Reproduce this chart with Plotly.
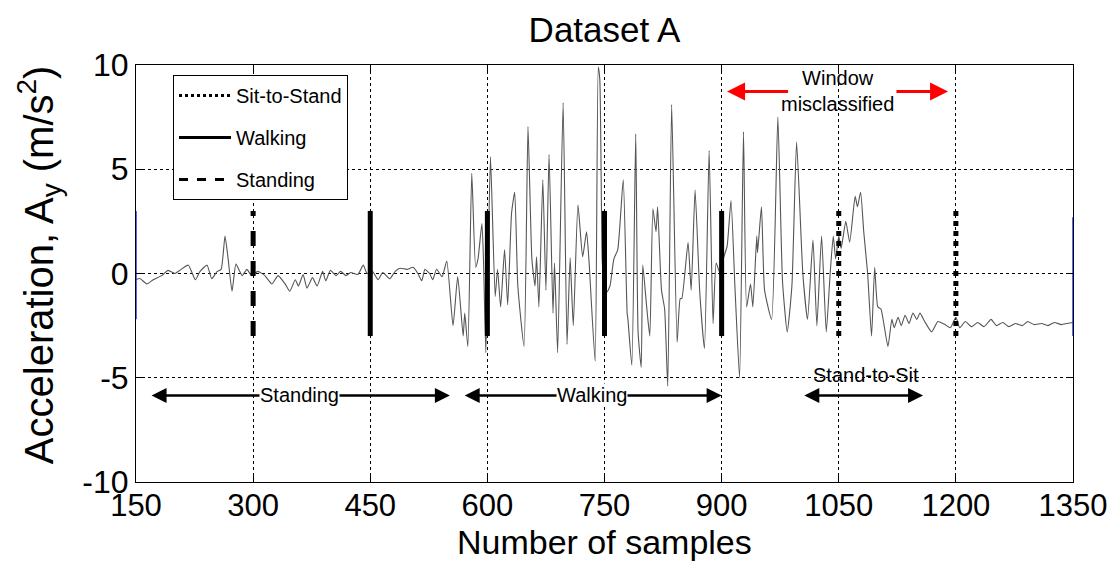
import plotly.graph_objects as go

# ---- signal ----
samples = [150,155,164,172,183,191,200,206,217,226,232,241,247,254,259,264,268,273,278,286,
           292,298,306,315,324,332,341,347,354,358,364,369,376,382,389,393,399,406,412,419,
           425,434,441,446,453,460,466,475,482,488,497,505,511,516,520,526,530,535,542,548,
           556,562,569,571,575,580,585,588,593,595,598,601,604,610,613,617,622,626,631,635,
           639,647,652,657,661,663,666,671,675,679,684,686,690,697,702,706,710,716,722,727,
           730,738,742,744,747,749,753,757,762,767,774,779,780,785,790,793,797,799,804,808,
           812,816,818,823,827,831,836,843,847,849,857,861,866,872,878,884,889,893,898,902,
           907,912,917,923,928,932,937,940,945,946,951,955,964,972,978,984,990,996,1004,1010,
           1017,1022,1028,1034,1039,1043,1046,1050,1053,1059,1064,1071,1074,1078,1082,1087,1092,1096,1100,1104,
           1113,1118,1121,1126,1130,1135,1140,1145,1150,1154,1160,1169,1177,1186,1193,1200,1205,1212,1220,1228,
           1236,1245,1252,1260,1268,1276,1285,1292,1300,1310,1318,1326,1335,1342,1350]
accel = [-0.29,-0.24,-0.5,-0.3,-0.1,0.15,0.0,0.15,0.4,-0.3,0.1,0.4,-0.25,0.1,0.2,1.8,0.7,-0.85,0.45,-0.1,
         0.2,-0.1,0.1,-0.1,-0.5,-0.1,-0.5,-0.85,-0.3,-0.6,-0.05,-0.7,-0.2,-0.6,0.1,-0.35,0.15,-0.1,0.1,-0.1,
         0.05,-0.05,0.4,0.0,0.1,-0.3,0.05,-0.25,0.1,0.25,0.2,0.3,0.0,-0.35,0.2,0.0,-0.3,0.2,-0.15,0.6,
         -2.5,-0.15,-3.0,-1.9,-3.5,4.8,0.3,0.7,2.4,0.7,-3.8,0.7,5.6,-1.1,0.2,-1.6,1.15,-1.5,2.9,3.9,
         -0.6,-3.5,7.05,0.7,-0.6,0.8,-1.6,4.5,-0.8,5.7,-1.9,0.5,-3.8,8.2,-3.4,0.75,-2.5,3.3,0.8,2.0,
         0.7,-4.2,9.9,9.3,0.7,-0.4,-0.9,-0.6,0.7,1.15,4.5,-1.9,-2.2,-4.4,6.7,-2.8,-4.5,0.4,-1.6,-3.0,
         3.1,2.0,3.2,-0.8,-1.7,-5.4,8.1,-3.3,-1.2,-1.2,1.5,-0.8,4.0,-0.9,-3.6,5.9,-2.4,0.5,0.0,0.7,
         1.3,3.5,-0.6,-5.0,6.8,-1.6,-0.5,-1.6,1.8,1.0,3.2,-0.8,-2.2,7.5,-0.4,-2.8,-0.6,6.3,0.0,-2.2,
         1.6,-2.5,1.8,-2.8,0.0,1.8,0.7,1.8,1.2,2.5,1.5,3.7,3.2,3.9,2.0,0.0,-3.0,0.3,-1.6,-1.7,
         -3.5,-2.2,-2.6,-2.1,-2.5,-2.0,-2.4,-1.9,-2.2,-1.9,-2.3,-2.8,-2.3,-2.45,-2.6,-2.1,-2.6,-2.3,-2.55,-2.35,
         -2.55,-2.2,-2.5,-2.35,-2.55,-2.4,-2.5,-2.3,-2.45,-2.4,-2.5,-2.35,-2.45,-2.4,-2.35]

# ---- window boundary markers ----
marker_x = [300, 450, 600, 750, 900, 1050, 1200]
marker_kind = ["Standing", "Walking", "Walking", "Walking", "Walking", "Sit-to-Stand", "Sit-to-Stand"]
marker_half = 3
legend_order = ["Sit-to-Stand", "Walking", "Standing"]
dash_of = {"Sit-to-Stand": "dot", "Walking": "solid", "Standing": "dash"}

# ---- activity spans (double arrows) ----
span_labels = ["Standing", "Walking", "Stand-to-Sit"]
span_start = [168, 569, 1004]
span_end = [552, 900, 1158]
span_label_x = [360, 734, 1085]
span_y = -5.85

# ---- misclassified window ----
miscl_text = "Window<br>misclassified"
miscl_x = 1049
miscl_y = 8.75
red_tail = [987, 1122]
red_head = [907, 1190]
red_y = 8.73

# edge artefacts (thin blue)
edge_x = [150, 1350]
edge_lo = [-2.2, -3.0]
edge_hi = [3.0, 2.7]

x_ticks = [150, 300, 450, 600, 750, 900, 1050, 1200, 1350]
y_ticks = [-10, -5, 0, 5, 10]

title_text = "Dataset A"
x_title = "Number of samples"
y_title = "Acceleration, A<sub>y</sub> (m/s<sup>2</sup>)"

FONT = "Arial, Liberation Sans, sans-serif"

fig = go.Figure()

fig.add_trace(go.Scatter(x=samples, y=accel, mode="lines",
                         line=dict(color="#555555", width=1.1, shape="spline", smoothing=0.5),
                         showlegend=False, hoverinfo="skip"))

for xv, lo, hi in zip(edge_x, edge_lo, edge_hi):
    fig.add_trace(go.Scatter(x=[xv, xv], y=[lo, hi], mode="lines",
                             line=dict(color="#2030ff", width=1.5), showlegend=False))

for xv, k in zip(marker_x, marker_kind):
    fig.add_trace(go.Scatter(x=[xv, xv], y=[-marker_half, marker_half], mode="lines",
                             line=dict(color="black", width=5, dash=dash_of[k]),
                             showlegend=False))

for i, k in enumerate(legend_order):
    fig.add_trace(go.Scatter(x=[None], y=[None], mode="lines", name=k,
                             legendgroup=k, legendrank=i,
                             line=dict(color="black", width=3, dash=dash_of[k])))

# double-headed arrows
for lab, s, e, lx in zip(span_labels, span_start, span_end, span_label_x):
    fig.add_annotation(x=e, y=span_y, ax=s, ay=span_y, xref="x", yref="y",
                       axref="x", ayref="y", text="", showarrow=True,
                       arrowhead=2, startarrowhead=2, arrowside="end+start",
                       arrowsize=1.2, startarrowsize=1.2, arrowwidth=2.5,
                       arrowcolor="black")
    if lab == "Stand-to-Sit":
        fig.add_annotation(x=lx, y=span_y + 1.0, text=lab, showarrow=False,
                           font=dict(size=20, color="black", family=FONT))
    else:
        fig.add_annotation(x=lx, y=span_y, text=lab, showarrow=False,
                           bgcolor="white", borderpad=0,
                           font=dict(size=20, color="black", family=FONT))

for t, h in zip(red_tail, red_head):
    fig.add_annotation(x=h, y=red_y, ax=t, ay=red_y, xref="x", yref="y",
                       axref="x", ayref="y", text="", showarrow=True,
                       arrowhead=2, arrowsize=1.2, arrowwidth=3, arrowcolor="red")
fig.add_annotation(x=miscl_x, y=miscl_y, text=miscl_text, showarrow=False,
                   font=dict(size=20, color="black", family=FONT))

# axis titles as paper-anchored text
fig.add_annotation(text=x_title, xref="paper", yref="paper", x=0.5, y=-0.145,
                   xanchor="center", yanchor="middle", showarrow=False,
                   font=dict(size=34, color="black", family=FONT))
fig.add_annotation(text=y_title, xref="paper", yref="paper", x=-0.1035, y=0.52,
                   xanchor="center", yanchor="middle", showarrow=False, textangle=-90,
                   font=dict(size=40, color="black", family=FONT))

# the page body adds an 8px offset, so the figure is 8px smaller than the window
fig.update_layout(
    width=1107, height=555,
    margin=dict(l=128, r=42, t=57, b=81, autoexpand=False),
    paper_bgcolor="white", plot_bgcolor="white",
    font=dict(family=FONT, color="black"),
    title=dict(text=title_text, xref="paper", x=0.5, xanchor="center",
               y=0.96, yanchor="middle",
               font=dict(size=35, color="black", family=FONT)),
    legend=dict(x=0.0395, y=0.976, xanchor="left", yanchor="top",
                bgcolor="white", bordercolor="black", borderwidth=1,
                font=dict(size=20, family=FONT), tracegroupgap=13, itemwidth=52,
                traceorder="grouped"),
    showlegend=True,
)
fig.update_xaxes(range=[150, 1350], tickvals=x_ticks, ticktext=[str(v) for v in x_ticks],
                 automargin=False,
                 showgrid=True, gridcolor="black", gridwidth=1, griddash="3px,3px",
                 zeroline=False, showline=True, linecolor="black", linewidth=1, mirror="ticks",
                 ticks="inside", ticklen=6, tickcolor="black", ticklabelstandoff=-4,
                 tickfont=dict(size=31, family=FONT))
fig.update_yaxes(range=[-10, 10], tickvals=y_ticks, ticktext=[str(v) for v in y_ticks],
                 automargin=False,
                 showgrid=True, gridcolor="black", gridwidth=1, griddash="3px,3px",
                 zeroline=False, showline=True, linecolor="black", linewidth=1, mirror="ticks",
                 ticks="inside", ticklen=6, tickcolor="black",
                 tickfont=dict(size=32, family=FONT))

fig.write_html("out.html")
